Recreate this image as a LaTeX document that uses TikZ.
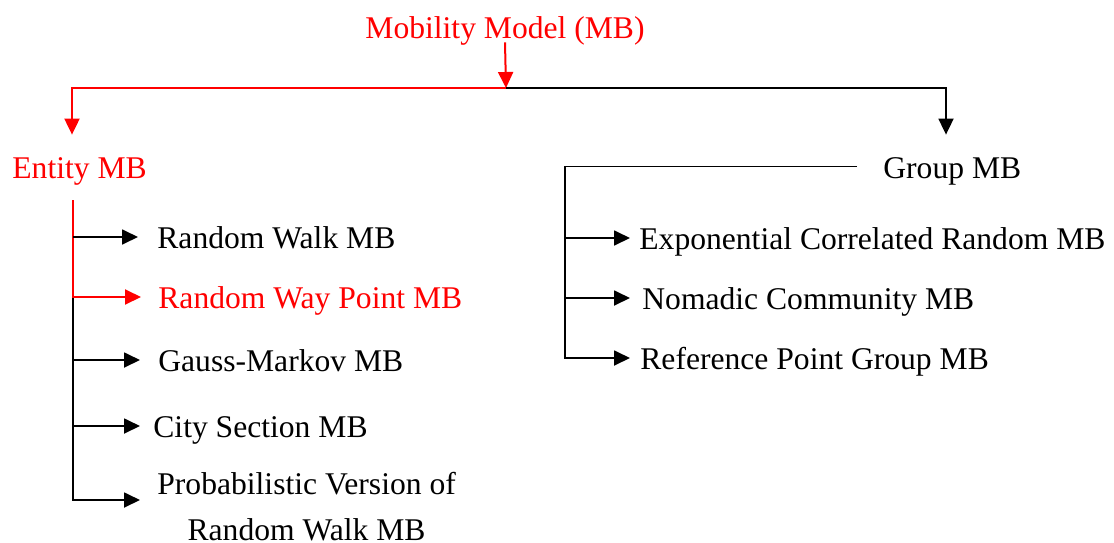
\documentclass[tikz,border=0pt]{standalone}
\usepackage{fontspec}
\setmainfont{Liberation Serif}
\usetikzlibrary{arrows.meta}

\begin{document}
\begin{tikzpicture}[x=0.5pt,y=-0.5pt,
	every node/.style={font=\fontsize{15.8}{23}\selectfont, inner sep=0pt},
	model/.style={anchor=west, inner xsep=9pt, text height=11.5pt, text depth=0pt},
	arr/.style={-{Triangle[length=8pt,width=7.5pt]}},
	link/.style={line width=0.9pt},
	hot/.style={red, line width=1pt}]
	\useasboundingbox (0,0) rectangle (1114,542);

	% top level
	\node[model, red, anchor=base, inner ysep=2pt] (title) at (505,38) {Mobility Model (MB)};
	\node[model, red, anchor=base west, inner xsep=0pt, inner ysep=10pt] (ent) at (12,178) {Entity MB};
	\node[model, anchor=base west, inner xsep=13pt, inner ysep=10pt] (grp) at (857,178) {Group MB};

	\coordinate (hub) at (506,88);
	\coordinate (lj) at (72,88);
	\coordinate (rj) at (946,88);
	\coordinate (ltop) at (73,200);
	\coordinate (rtop) at (grp.west -| 565,0);

	% entity models
	\node[model, inner xsep=9.5pt] (rw) at (138,237) {Random Walk MB};
	\node[model, red, inner xsep=8.5pt] (rwp) at (141,297) {Random Way Point MB};
	\node[model] (gm) at (140,360) {Gauss-Markov MB};
	\node[model, inner xsep=6.5pt] (cs) at (140,426) {City Section MB};
	\node[anchor=west, align=center, inner xsep=8.5pt] (pv) at (140,507) {Probabilistic Version of\\Random Walk MB};

	% group models
	\node[model, inner xsep=4.5pt] (ecr) at (630,238) {Exponential Correlated Random MB};
	\node[model, inner xsep=6pt] (nc) at (630,298) {Nomadic Community MB};
	\node[model, inner xsep=5pt] (rpg) at (630,358) {Reference Point Group MB};

	% links
	\draw[hot, arr] (title.south) -- (hub);
	\draw[hot, arr] (hub) -- (lj) -- (lj |- ent.north);
	\draw[link, arr] (hub) -- (rj) -- (rj |- grp.north);

	\draw[link, arr] (ltop |- rwp.west) |- ([yshift=3.5pt]pv.west);
	\draw[hot, arr] (ltop) |- (rwp.west);
	\foreach \m in {rw, gm, cs}
		\draw[link, arr] (ltop |- \m.west) -- (\m.west);

	\draw[link, arr] (grp.west) -- (rtop) |- (rpg.west);
	\foreach \m in {ecr, nc}
		\draw[link, arr] (rtop |- \m.west) -- (\m.west);
\end{tikzpicture}
\end{document}
